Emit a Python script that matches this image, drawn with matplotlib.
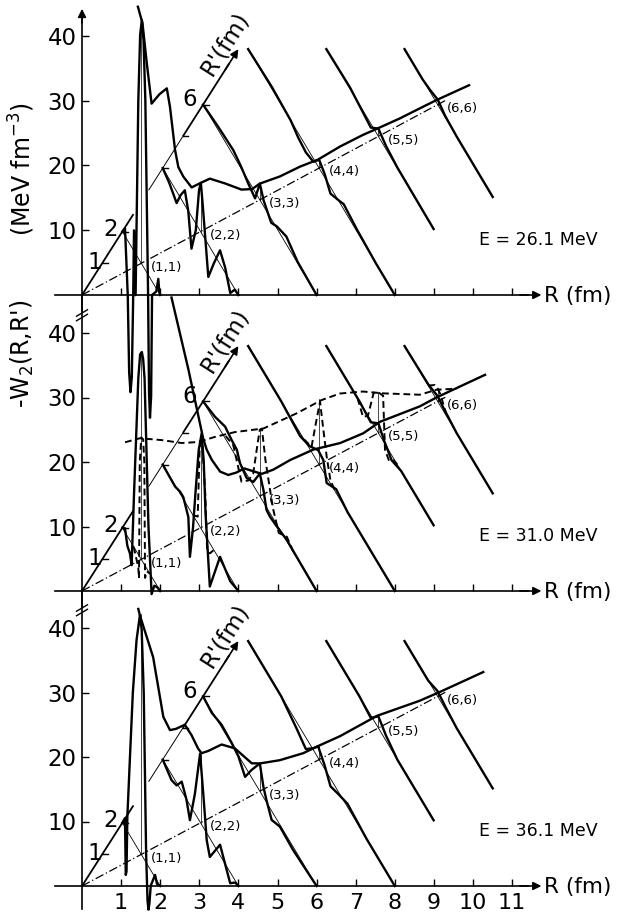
import numpy as np
import matplotlib
matplotlib.use("Agg")
import matplotlib.pyplot as plt

plt.rcParams['font.family'] = ['DejaVu Sans']

# ---------------- oblique projection of the (R, R') plane ----------------
SHIFT = 0.516   # horizontal offset (fm of R) per fm of R'
RISE = 4.9      # vertical offset (W units) per fm of R'

energies = ["26.1", "31.0", "36.1"]
x_ticks = list(range(1, 12))
y_ticks = [10, 20, 30, 40]
rp_tick_vals = [1, 2, 4, 5, 6]
rp_labels = [(1, "1"), (2, "2"), (6, "6")]
diag_labels = ["(1,1)", "(2,2)", "(3,3)", "(4,4)", "(5,5)", "(6,6)"]

# ---------------- panel 1 : E = 26.1 MeV ----------------
# cuts along R + R' = 2S : R values and W values
p1_c1_R = [0, 0.14, 0.285, 0.36, 0.43, 0.50, 0.574, 0.616, 0.70, 0.843, 0.94, 1.03, 1.12, 1.215,
           1.36, 1.41, 1.46, 1.52, 1.57, 1.79, 1.90, 1.95, 2.0]
p1_c1_W = [0, 1.2, -8.4, -20, -22.7, -20, -7.0, 3.2, -6.4, 24.3, 35, 37.7, 35, 26.2,
           -3.1, -18, -21.6, -18, -2.1, -0.5, 2.0, 0.3, 0]
p1_c2_R = [0, 0.35, 0.736, 0.95, 1.17, 1.35, 1.52, 1.75, 1.92, 2.017, 2.12, 2.41, 2.7, 3.03, 3.3, 3.57, 3.81, 4.0]
p1_c2_W = [0, -0.6, -1.8, 0.5, 2.3, 0.0, -5.0, -1.0, 6.0, 7.6, 4.5, -5.0, -1.5, 2.15, 0.8, -1.8, -0.1, 0]
p1_c3_R = [0, 0.8, 1.6, 2.0, 2.4, 2.75, 3.0, 3.2, 3.6, 3.9, 4.4, 5.0, 6.0]
p1_c3_W = [0, 0.5, 0.8, 0.3, -0.5, -1.0, 2.5, 0.9, -0.6, 0.3, 1.2, 0.2, 0]
p1_c4_R = [0.25, 1.5, 2.5, 2.9, 3.3, 3.7, 4.0, 4.3, 4.6, 5.0, 5.3, 6.0, 7.0, 8.0]
p1_c4_W = [0, 0.3, 0, -0.7, -1.0, -0.5, 1.3, 0.5, -1.0, 0, 0.8, 0.3, 0, 0]
p1_c5_R = [2.25, 3.5, 4.2, 4.6, 5.0, 5.4, 6.0, 7.92]
p1_c5_W = [0, 0.2, -0.3, -0.6, 1.2, 0.5, 0.1, 0]
p1_c6_R = [4.25, 5.2, 5.6, 6.0, 6.4, 7.0, 8.91]
p1_c6_W = [0, 0, 0.3, 0.8, 0.2, 0, 0]
# ridge along R = R'
p1_ridge_r = [0.943, 1.02, 1.09, 1.174, 1.306, 1.431, 1.484, 1.57, 1.625, 1.71, 1.85, 2.005, 2.157,
              2.414, 2.69, 2.87, 3.0, 3.34, 3.68, 3.98, 4.35, 4.74, 4.97, 5.36, 5.70, 5.98, 6.53]
p1_ridge_W = [39.9, 37.0, 30.7, 23.8, 24.6, 24.9, 21.8, 14.7, 11.8, 9.9, 7.55, 7.5, 7.4,
              5.4, 3.1, 2.3, 2.5, 1.95, 1.8, 1.4, 1.6, 1.5, 1.3, 1.0, 0.9, 0.8, 0.4]
p1_peaks = [37.6, 7.5, 2.5, 1.4, 1.3, 0.8]

# ---------------- panel 2 : E = 31.0 MeV ----------------
p2_c1_R = [0, 0.14, 0.264, 0.40, 0.49, 0.616, 0.843, 0.94, 1.03, 1.10, 1.174, 1.38, 1.546, 1.69, 1.835, 2.0]
p2_c1_W = [0, 0.6, -1.5, -2.0, -3.4, 8.2, 27.3, 31.5, 32.3, 31.5, 28.9, 7.0, -2.7, -0.7, -0.2, 0]
p2_c2_R = [0, 0.653, 0.92, 1.087, 1.355, 1.438, 1.60, 1.727, 1.90, 2.058, 2.17, 2.264, 2.49, 3.03, 3.57, 4.0]
p2_c2_W = [0, -0.2, 0.3, 0.3, -1.5, -7.25, -2, 3.9, 11.5, 14.9, 11, 3.5, -6.7, 0.55, -0.6, 0]
p2_c3_R = [0, 0.628, 1.165, 1.517, 1.785, 1.95, 2.30, 2.653, 3.0, 3.19, 3.355, 3.54, 3.89, 4.43, 6.0]
p2_c3_W = [0, 0.7, 1.8, 1.4, 1.25, 0, -0.6, 0.5, 3.5, 1.9, -0.4, -0.55, -0.3, 0.2, 0]
p2_c4_R = [0.25, 2.0, 3.0, 3.5, 3.95, 4.22, 4.4, 4.9, 5.5, 6.5, 8.0]
p2_c4_W = [0, 0, -0.5, 0.4, 2.0, 1.8, -0.9, 0.6, 0, 0, 0]
p2_c5_R = [2.25, 4.0, 4.6, 5.0, 5.3, 5.7, 6.2, 7.92]
p2_c5_W = [0, 0, -0.3, 1.5, 0.3, -0.8, 0, 0]
p2_c6_R = [4.25, 5.5, 6.0, 6.3, 7.0, 8.91]
p2_c6_W = [0, 0.2, 0.8, 0.5, 0, 0]
p2_ridge_r = [1.51, 1.794, 2.045, 2.104, 2.19, 2.33, 2.467, 2.606, 2.737, 2.916, 3.034, 3.226, 3.51,
              3.905, 4.354, 4.743, 5.026, 5.70, 5.983, 6.80]
p2_ridge_W = [38.1, 25.6, 13.6, 11.6, 9.6, 7.1, 5.9, 5.6, 5.6, 4.2, 3.3, 3.0, 3.1,
              2.8, 1.6, 1.2, 1.6, 0.7, 0.7, 0.2]
# dashed curves (second quantity shown at 31.0 MeV)
p2_dridge_r = [0.726, 0.976, 1.346, 1.682, 1.959, 2.243, 2.579, 3.06, 3.62, 4.04, 4.35, 4.74, 5.09,
               5.70, 5.98, 6.32]
p2_dridge_W = [19.5, 18.9, 16.8, 14.7, 13.5, 12.9, 12.0, 10.2, 9.8, 9.8, 9.3, 7.7, 5.7,
               2.5, 1.9, 0.4]
p2_d1_R = [0.6, 0.84, 0.88, 0.92, 1.0, 1.10, 1.16, 1.20, 1.30, 1.45]
p2_d1_W = [0, -2, -3.5, 14.7, 18.9, 19.1, 15.9, -1.9, -0.4, 0]
p2_d2_R = [1.6, 1.85, 1.95, 2.0, 2.1, 2.25, 2.35, 2.5, 2.7]
p2_d2_W = [0, 1, 12, 13.4, 13.2, 6.4, -2.1, -1.5, 0]
p2_d3_R = [1.2, 1.6, 2.03, 2.4, 2.65, 2.9, 3.0, 3.11, 3.3, 3.54, 3.71, 4.0, 4.43, 4.8]
p2_d3_W = [0.5, 1.0, -2.5, -0.5, 1.8, 8, 10.3, 11.0, 7, 3.6, 1.4, -0.8, 0.7, 0]
p2_d4_R = [3.2, 3.6, 3.85, 4.05, 4.2, 4.4, 4.6, 4.9]
p2_d4_W = [0, 0.8, 6, 10.0, 7, 3.2, 0.5, 0]
p2_d5_R = [3.9, 4.19, 4.45, 4.75, 5.0, 5.25, 5.35, 5.55, 5.79, 6.0]
p2_d5_W = [0, -1.5, 0, 5.0, 6.3, 7.0, -0.9, -1.5, -0.3, 0]
p2_d6_R = [5.5, 5.85, 6.0, 6.15, 6.5]
p2_d6_W = [0, 1.8, 2.0, 1.8, 0]
p2_peaks = [32.3, 14.9, 10.5, 10.2, 6.3, 2.0]

# ---------------- panel 3 : E = 36.1 MeV ----------------
p3_c1_R = [0, 0.14, 0.18, 0.22, 0.264, 0.40, 0.554, 0.75, 0.926, 1.02, 1.13, 1.256, 1.33, 1.38, 1.43,
           1.50, 1.73, 1.83, 2.0]
p3_c1_W = [0, 1.4, -7.2, -6.5, 2.2, 12, 22.9, 32, 36.7, 35, 25.7, 1.35, -5.5, -6.7, -5.5,
           -2.4, 0.4, -0.5, 0]
p3_c2_R = [0, 0.467, 0.736, 1.004, 1.25, 1.438, 1.70, 1.975, 2.15, 2.326, 2.49, 3.03, 3.566, 3.83, 4.0]
p3_c2_W = [0, -0.9, -0.4, 1.5, 0, -2.35, 3, 10.6, 5, -1.1, -2.9, 1.65, -1.7, -0.3, 0]
p3_c3_R = [0, 0.463, 0.979, 1.517, 1.868, 2.219, 2.57, 3.0, 3.19, 3.355, 3.624, 4.06, 4.76, 6.0]
p3_c3_W = [0, -0.3, 0.4, 0.2, -0.15, -1.6, 1.2, 4.3, 1.6, 0.3, -1.4, -0.3, -0.5, 0]
p3_c4_R = [0.25, 2.0, 2.8, 3.3, 3.7, 3.95, 4.3, 4.6, 5.0, 5.5, 6.5, 8.0]
p3_c4_W = [0, 0, -1.0, -1.8, 0.3, 1.8, 0.5, -1.2, -0.4, 0.5, 0, 0]
p3_c5_R = [2.25, 4.0, 4.6, 5.0, 5.4, 6.0, 7.92]
p3_c5_W = [0, 0, -0.4, 1.8, 0.8, 0, 0]
p3_c6_R = [4.25, 5.5, 6.0, 6.4, 7.0, 8.91]
p3_c6_W = [0, 0, 0.8, 0.4, 0, 0]
p3_ridge_r = [0.95, 0.976, 1.20, 1.372, 1.484, 1.583, 1.735, 1.847, 1.959, 2.018, 2.13, 2.355, 2.579,
              2.863, 3.0, 3.338, 3.733, 3.958, 4.354, 4.974, 5.70, 6.04, 6.77]
p3_ridge_W = [38.3, 37.2, 29.6, 19.5, 16.9, 16.6, 16.5, 14.35, 11.7, 10.7, 10.5, 10.4, 8.7,
              5.0, 4.3, 3.15, 2.3, 2.2, 1.9, 2.0, 0.8, 0.5, 0.0]
p3_peaks = [37.2, 10.7, 4.3, 2.2, 2.0, 0.5]

panels = [
    dict(cuts=[(p1_c1_R, p1_c1_W), (p1_c2_R, p1_c2_W), (p1_c3_R, p1_c3_W),
               (p1_c4_R, p1_c4_W), (p1_c5_R, p1_c5_W), (p1_c6_R, p1_c6_W)],
         ridge=(p1_ridge_r, p1_ridge_W), peaks=p1_peaks, dashed=None),
    dict(cuts=[(p2_c1_R, p2_c1_W), (p2_c2_R, p2_c2_W), (p2_c3_R, p2_c3_W),
               (p2_c4_R, p2_c4_W), (p2_c5_R, p2_c5_W), (p2_c6_R, p2_c6_W)],
         ridge=(p2_ridge_r, p2_ridge_W), peaks=p2_peaks,
         dashed=dict(ridge=(p2_dridge_r, p2_dridge_W),
                     cuts=[(p2_d1_R, p2_d1_W), (p2_d2_R, p2_d2_W), (p2_d3_R, p2_d3_W),
                           (p2_d4_R, p2_d4_W), (p2_d5_R, p2_d5_W), (p2_d6_R, p2_d6_W)])),
    dict(cuts=[(p3_c1_R, p3_c1_W), (p3_c2_R, p3_c2_W), (p3_c3_R, p3_c3_W),
               (p3_c4_R, p3_c4_W), (p3_c5_R, p3_c5_W), (p3_c6_R, p3_c6_W)],
         ridge=(p3_ridge_r, p3_ridge_W), peaks=p3_peaks, dashed=None),
]


def proj_cut(S, R, W):
    R = np.asarray(R, float)
    Rp = 2 * S - R
    return R + SHIFT * Rp, RISE * Rp + np.asarray(W, float)


def proj_diag(r, W):
    r = np.asarray(r, float)
    return r * (1 + SHIFT), RISE * r + np.asarray(W, float)


# ---------------- layout (pixel geometry of the reference) ----------------
FIG_W, FIG_H = 624, 914
PX0, PXS = 82.0, 39.1
baselines = [295.0, 591.0, 886.0]
yscales = [6.475, 6.45, 6.45]
left_bounds = [(-2.5, 43.0), (-2.5, 45.9), (-3.6, 45.9)]

THICK = 1.7
THIN = 0.6

fig = plt.figure(figsize=(FIG_W / 100, FIG_H / 100), dpi=100)
fig.patch.set_facecolor('white')

for i, P in enumerate(panels):
    ax = fig.add_axes([0, 0, 1, 1])
    ax.patch.set_alpha(0)
    b, s = baselines[i], yscales[i]
    ax.set_xlim(-PX0 / PXS, (FIG_W - PX0) / PXS)
    ax.set_ylim(-(FIG_H - b) / s, b / s)
    for sp in ('top', 'right'):
        ax.spines[sp].set_visible(False)
    ax.spines['bottom'].set_position(('data', 0))
    ax.spines['bottom'].set_bounds(-0.7, 11.4)
    ax.spines['left'].set_position(('data', 0))
    ax.spines['left'].set_bounds(*left_bounds[i])
    for sp in ('bottom', 'left'):
        ax.spines[sp].set_linewidth(1.2)
    ax.set_xticks(x_ticks)
    ax.set_yticks(y_ticks)
    ax.tick_params(axis='x', direction='in', length=5, width=1.0, labelsize=16, pad=5,
                   labelbottom=(i == 2))
    ax.tick_params(axis='y', direction='in', length=5, width=1.0, labelsize=16.5, pad=4)

    # R axis arrow and label
    ax.annotate("", xy=(11.75, 0), xytext=(11.2, 0),
                arrowprops=dict(arrowstyle="-|>", lw=1.2, color='k', mutation_scale=12,
                                shrinkA=0, shrinkB=0))
    ax.text(12.69, -0.2, "R (fm)", fontsize=15.5, ha='center', va='center')
    if i == 0:
        ax.annotate("", xy=(0, 44.2), xytext=(0, 42.0),
                    arrowprops=dict(arrowstyle="-|>", lw=1.2, color='k', mutation_scale=12,
                                    shrinkA=0, shrinkB=0))
    else:
        for k in (0.0, 0.7):
            ax.plot([-0.14, 0.14], [41.9 + k, 42.9 + k], color='k', lw=1.0)

    # R' axis (oblique)
    for seg, lw in (((0.0, 2.55), 1.3), ((3.3, 5.0), 0.7), ((5.0, 7.3), 1.3)):
        rp = np.array(seg)
        ax.plot(SHIFT * rp, RISE * rp, color='k', lw=lw, solid_capstyle='butt')
    ax.annotate("", xy=(SHIFT * 7.75, RISE * 7.75), xytext=(SHIFT * 7.1, RISE * 7.1),
                arrowprops=dict(arrowstyle="-|>", lw=1.2, color='k', mutation_scale=12,
                                shrinkA=0, shrinkB=0))
    for n in rp_tick_vals:
        ax.plot([SHIFT * n, SHIFT * n + 0.14], [RISE * n, RISE * n], color='k', lw=1.0)
    for n, lab in rp_labels:
        dx, dy = {1: (-0.2, 0.1), 2: (-0.31, 0.3), 6: (-0.34, 0.8)}[n]
        ax.text(SHIFT * n + dx, RISE * n + dy, lab, fontsize=16.5, ha='center', va='center')
    ax.text(3.66, 38.9, "R'(fm)", fontsize=16.5, rotation=57.5, ha='center', va='center',
            rotation_mode='anchor')

    # diagonal R = R' (dash-dot)
    dx_, dy_ = proj_diag([0, 6.15], [0, 0])
    ax.plot(dx_, dy_, color='k', lw=0.9, dashes=(7, 2.2, 1, 2.2))

    # cut baselines (thin) and cut curves (thick)
    for S, (R, W) in enumerate(P['cuts'], start=1):
        bx, by = proj_cut(S, [R[0], R[-1]], [0, 0])
        ax.plot(bx, by, color='k', lw=THIN)
        cx, cy = proj_cut(S, R, W)
        ax.plot(cx, cy, color='k', lw=THICK, solid_joinstyle='round', zorder=3)

    # ridge along the diagonal
    rx, ry = proj_diag(*P['ridge'])
    ax.plot(rx, ry, color='k', lw=THICK, solid_joinstyle='round', zorder=3)

    # thin verticals at diagonal points
    for n, pk in enumerate(P['peaks'], start=1):
        vx, vy = proj_diag([n, n], [0, pk])
        ax.plot(vx, vy, color='k', lw=0.5)

    # dashed curves
    if P['dashed'] is not None:
        D = P['dashed']
        dxr, dyr = proj_diag(*D['ridge'])
        ax.plot(dxr, dyr, color='k', lw=1.4, dashes=(3.5, 2.0), zorder=3)
        for S, (R, W) in enumerate(D['cuts'], start=1):
            cx, cy = proj_cut(S, R, W)
            ax.plot(cx, cy, color='k', lw=1.4, dashes=(3.5, 2.0), zorder=3)

    # diagonal point labels
    for n, lab in enumerate(diag_labels, start=1):
        px_, py_ = proj_diag(n, 0)
        ax.text(px_ + 0.64, py_ - 0.6, lab, fontsize=9.5, ha='center', va='center')

    ax.text(11.68, 8.5, "E = " + energies[i] + " MeV", fontsize=12.5, ha='center', va='center')

fig.text(22 / FIG_W, 1 - 169 / FIG_H, "(MeV fm$^{-3}$)", rotation=90, fontsize=17,
         ha='center', va='center')
fig.text(22 / FIG_W, 1 - 354 / FIG_H, "-W$_2$(R,R')", rotation=90, fontsize=17,
         ha='center', va='center')

fig.savefig("out.png", dpi=100, facecolor='white')
